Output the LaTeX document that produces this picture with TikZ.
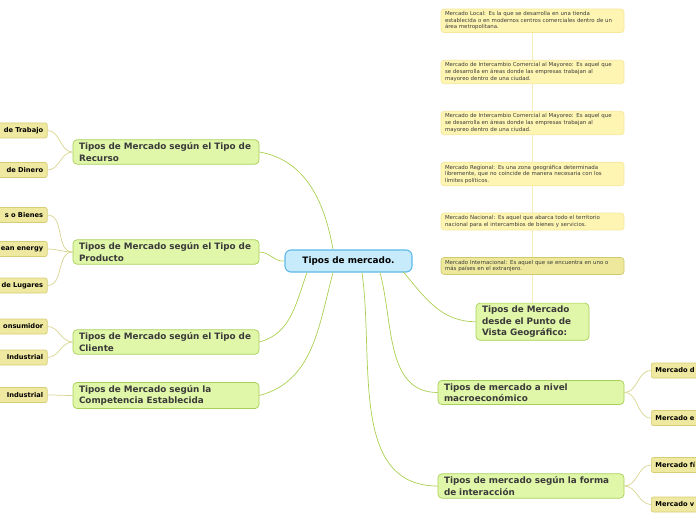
\documentclass[tikz,border=0pt]{standalone}
\usepackage{fontspec}
\setmainfont{DejaVu Sans}
\usetikzlibrary{calc}
\definecolor{cctrfill}{HTML}{C8EBFB}
\definecolor{cctrline}{HTML}{5CB8E8}
\definecolor{ctopfill}{HTML}{E0F6A8}
\definecolor{ctopline}{HTML}{A8D058}
\definecolor{cleaffill}{HTML}{EFE8A0}
\definecolor{cleafline}{HTML}{D6CE74}
\definecolor{cnotefill}{HTML}{FFF5B2}
\definecolor{cnoteline}{HTML}{F5E89A}
\definecolor{cnotedark}{HTML}{EDE89C}
\definecolor{cnotedkln}{HTML}{CFCA6E}
\definecolor{cbranch}{HTML}{ABCE50}
\definecolor{ctwig}{HTML}{D8D490}
\definecolor{cvline}{HTML}{F6EDB4}
\definecolor{ctext}{HTML}{3A3A3A}

\begin{document}
\begin{tikzpicture}[x=1bp, y=-1bp,
  ctr/.style={draw=cctrline, fill=cctrfill, line width=1.1pt, rounded corners=6pt,
              minimum width=127bp, minimum height=22bp, inner sep=0pt,
              font=\fontsize{8.9}{10}\selectfont\bfseries, text=black},
  topic/.style={draw=ctopline, fill=ctopfill, line width=0.7pt, rounded corners=4pt,
                text width=#1, inner xsep=6bp, inner ysep=3bp, align=left,
                font=\fontsize{8.85}{11.3}\selectfont\bfseries, text=ctext},
  topic/.default=174bp,
  leaf/.style={draw=cleafline, fill=cleaffill, line width=0.7pt, rounded corners=2pt,
               text width=52bp, inner xsep=4bp, minimum height=15bp, inner ysep=0pt,
               font=\fontsize{6.7}{7}\selectfont\bfseries, text=black},
  note/.style={draw=#1, fill=cnotefill, line width=0.7pt, rounded corners=3pt,
               text width=175bp, inner xsep=4bp, inner ysep=2.5bp, align=left,
               font=\fontsize{5.45}{6.6}\selectfont, text=ctext},
  note/.default=cnoteline,
  branch/.style={draw=cbranch, line width=0.7pt},
  twig/.style={draw=ctwig, line width=0.7pt}
]
\clip (0,0) rectangle (696,520);

%% ── Central topic
\node[ctr] (ctr) at (348.5,261) {Tipos de mercado.};

%% ── Left main topics
\node[topic] (rec) at (166,152) {Tipos de Mercado según el Tipo de\\Recurso};
\node[topic] (pro) at (166,252) {Tipos de Mercado según el Tipo de\\Producto};
\node[topic] (cli) at (166,342) {Tipos de Mercado según el Tipo de\\Cliente};
\node[topic] (com) at (166,395.5) {Tipos de Mercado según la\\Competencia Establecida};

%% ── Right main topics
\node[topic=101bp] (geo) at (532.5,321.7) {Tipos de Mercado\\desde el Punto de\\Vista Geográfico:};
\node[topic] (mac) at (531,392.5) {Tipos de mercado a nivel\\macroeconómico};
\node[topic] (itr) at (531,486) {Tipos de mercado según la forma\\de interacción};

%% ── Left leaves (cut by the page edge)
\foreach \n/\y/\txt in {lA/130.5/de Trabajo, lB/170/de Dinero, lC/215/s o Bienes,
                        lD/249/ean energy, lE/285.5/de Lugares, lF/326.5/onsumidor,
                        lG/357.5/Industrial, lH/395/Industrial}{
  \node[leaf, align=right, anchor=east] (\n) at (47.5,\y) {\txt};
}

%% ── Right leaves (cut by the page edge)
\foreach \n/\y/\txt in {rA/370.5/Mercado d, rB/418/Mercado e,
                        rC/465/Mercado fí, rD/504.5/Mercado v}{
  \node[leaf, align=left, anchor=west] (\n) at (651,\y) {\txt};
}

%% ── Geographic notes
\node[note] (nA) at (532.5,20.8) {Mercado Local: Es la que se desarrolla en una tienda\\establecida o en modernos centros comerciales dentro de un\\área metropolitana.};
\node[note] (nB) at (532.5,72) {Mercado de Intercambio Comercial al Mayoreo: Es aquel que\\se desarrolla en áreas donde las empresas trabajan al\\mayoreo dentro de una ciudad.};
\node[note] (nC) at (532.5,123) {Mercado de Intercambio Comercial al Mayoreo: Es aquel que\\se desarrolla en áreas donde las empresas trabajan al\\mayoreo dentro de una ciudad.};
\node[note] (nD) at (532.5,174) {Mercado Regional: Es una zona geográfica determinada\\libremente, que no coincide de manera necesaria con los\\límites políticos.};
\node[note] (nE) at (532.5,221.5) {Mercado Nacional: Es aquel que abarca todo el territorio\\nacional para el intercambios de bienes y servicios.};
\node[note=cnotedkln, fill=cnotedark] (nF) at (532.5,266) {Mercado Internacional: Es aquel que se encuentra en uno o\\más países en el extranjero.};

%% ── Note spine
\draw[cvline, line width=1pt] (nA.south) -- (nB.north) (nB.south) -- (nC.north)
  (nC.south) -- (nD.north) (nD.south) -- (nE.north) (nE.south) -- (nF.north)
  (nF.south) -- (geo.north);

%% ── Branches from the centre
\draw[branch] ($(ctr.north)+(-15.5,0)$) to[out=100,in=-10] (rec.east);
\draw[branch] (ctr.west) to[out=185,in=0] (pro.east);
\draw[branch] ($(ctr.south)+(-41.5,0)$) to[out=-110,in=15] (cli.east);
\draw[branch] ($(ctr.south)+(-15.5,0)$) to[out=-105,in=15] (com.east);
\draw[branch] ($(ctr.south)+(54.5,-1)$) to[out=-50,in=180] (geo.west);
\draw[branch] ($(ctr.south)+(31.5,0)$) to[out=-75,in=180] (mac.west);
\draw[branch] ($(ctr.south)+(13.5,0)$) to[out=-82,in=180] (itr.west);

%% ── Twigs to the leaves
\foreach \p/\c in {rec/lA, rec/lB, pro/lC, pro/lD, pro/lE, cli/lF, cli/lG, com/lH}{
  \draw[twig] (\p.west) to[out=180,in=0] (\c.east);
}
\foreach \p/\c in {mac/rA, mac/rB, itr/rC, itr/rD}{
  \draw[twig] (\p.east) to[out=0,in=180] (\c.west);
}

\end{tikzpicture}
\end{document}
